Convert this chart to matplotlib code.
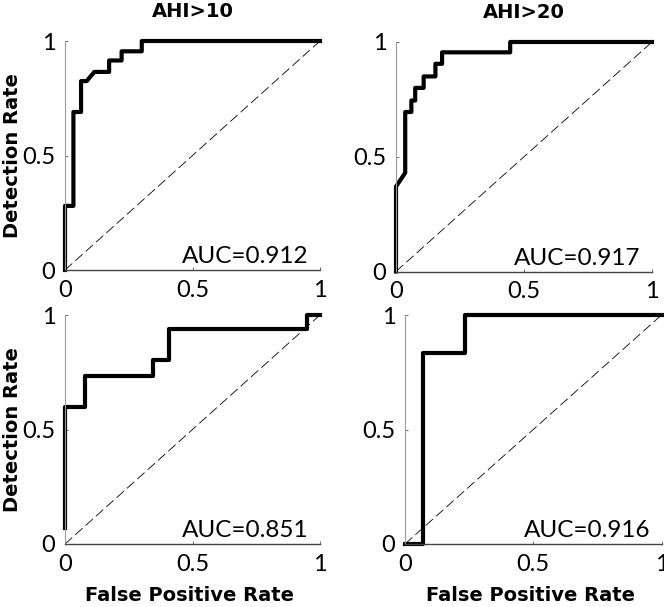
import numpy as np
import matplotlib.pyplot as plt

plt.rcParams['lines.scale_dashes'] = False

# ROC curves (false positive rate, detection rate)
fpr_tl = [0, 0, 0.033, 0.033, 0.063, 0.063, 0.085, 0.115, 0.173, 0.173, 0.222, 0.222, 0.301, 0.301, 1]
tpr_tl = [0, 0.28, 0.28, 0.69, 0.69, 0.825, 0.825, 0.865, 0.865, 0.915, 0.915, 0.955, 0.955, 1, 1]

fpr_tr = [0, 0, 0.036, 0.036, 0.060, 0.060, 0.075, 0.075, 0.108, 0.108, 0.154, 0.154, 0.180, 0.180, 0.446, 0.446, 1]
tpr_tr = [0, 0.37, 0.43, 0.695, 0.695, 0.745, 0.745, 0.80, 0.80, 0.85, 0.85, 0.905, 0.905, 0.955, 0.955, 1, 1]

fpr_bl = [0, 0, 0.078, 0.078, 0.346, 0.346, 0.408, 0.408, 0.948, 0.948, 1]
tpr_bl = [0.07, 0.60, 0.60, 0.735, 0.735, 0.805, 0.805, 0.94, 0.94, 1, 1]

fpr_br = [0, 0.069, 0.069, 0.234, 0.234, 1]
tpr_br = [0, 0, 0.835, 0.835, 1, 1]

auc = ['AUC=0.912', 'AUC=0.917', 'AUC=0.851', 'AUC=0.916']
titles = ['AHI>10', 'AHI>20', '', '']

W, H = 664, 607
fig = plt.figure(figsize=(W / 100, H / 100), dpi=100)

# axes boxes in pixels: left, top, right, bottom
boxes = [(65, 41, 320, 270), (396, 42, 652, 271.5), (65, 315, 320, 544), (405, 315, 661.5, 544)]
curves = [(fpr_tl, tpr_tl), (fpr_tr, tpr_tr), (fpr_bl, tpr_bl), (fpr_br, tpr_br)]

tick_font = dict(family='Lato', size=17)
bold_font = dict(family='DejaVu Sans', weight='bold', size=14)

for i, ((l, t, r, b), (fx, ty)) in enumerate(zip(boxes, curves)):
    ax = fig.add_axes([l / W, (H - b) / H, (r - l) / W, (b - t) / H])
    ax.plot([0, 1], [0, 1], color='black', lw=0.6, dashes=(7, 3))
    ax.plot(fx, ty, color='black', lw=3, clip_on=False)
    ax.set_xlim(0, 1)
    ax.set_ylim(0, 1)
    ax.set_xticks([0, 0.5, 1])
    ax.set_yticks([0, 0.5, 1])
    ax.set_xticklabels(['0', '0.5', '1'], **tick_font)
    ax.set_yticklabels(['0', '0.5', '1'], **tick_font)
    ax.tick_params(direction='in', length=2.5, width=0.6, pad=7, colors='#555555', labelcolor='black')
    ax.spines['top'].set_visible(False)
    ax.spines['right'].set_visible(False)
    ax.spines['left'].set_color('#9a9a9a')
    ax.spines['left'].set_linewidth(0.8)
    ax.spines['bottom'].set_color('#444444')
    ax.spines['bottom'].set_linewidth(1.0)
    ax.text(0.955, 0.03, auc[i], transform=ax.transAxes, ha='right', va='baseline',
            family='Lato', size=17.5)
    if titles[i]:
        ax.set_title(titles[i], pad=17, **bold_font)
    if i % 2 == 0:
        ax.set_ylabel('Detection Rate', **bold_font)
        ax.yaxis.set_label_coords(-0.17, 0.5)
    if i >= 2:
        ax.set_xlabel('False Positive Rate', **bold_font)
        ax.xaxis.set_label_coords(0.49, -0.185)

plt.savefig('out.png', dpi=100)
